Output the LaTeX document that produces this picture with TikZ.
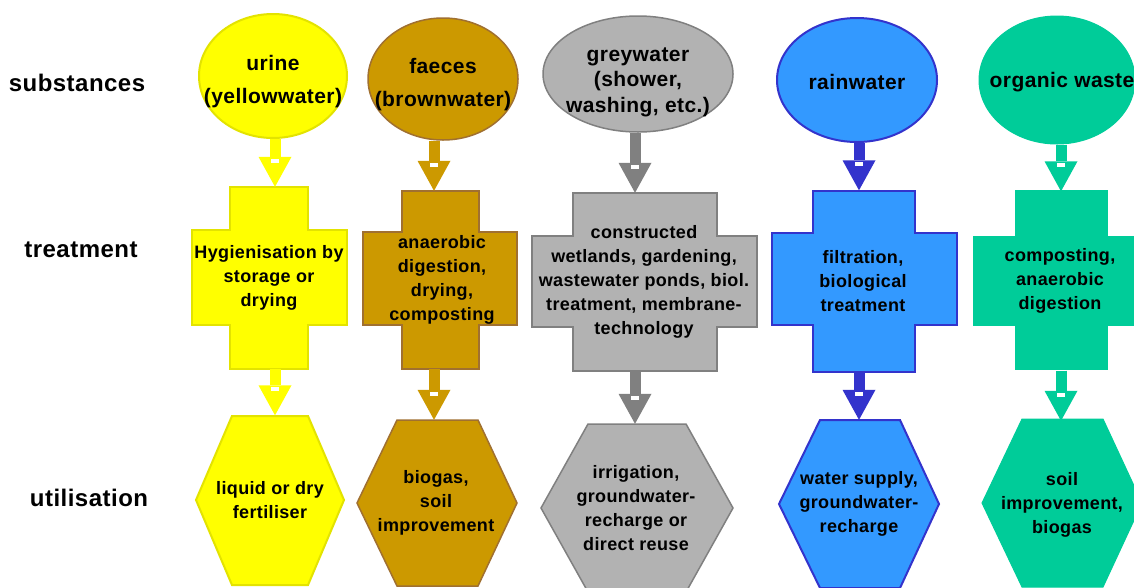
\documentclass[tikz,border=0pt]{standalone}
\usepackage{fontspec}
\setmainfont{Liberation Sans}[LetterSpace=2]
\usetikzlibrary{shapes.geometric,arrows.meta,calc}
\definecolor{yel}{HTML}{FFFF00}
\definecolor{yelb}{HTML}{E3E300}
\definecolor{brn}{HTML}{CC9900}
\definecolor{brnb}{HTML}{A07030}
\definecolor{gry}{HTML}{B2B2B2}
\definecolor{gryb}{HTML}{808080}
\definecolor{blu}{HTML}{3399FF}
\definecolor{blub}{HTML}{3333CC}
\definecolor{grn}{HTML}{00CC99}
\begin{document}
\begin{tikzpicture}[x=1pt,y=-1pt,
  srcshape/.style={ellipse, inner sep=0pt, line width=2pt},
  srctext/.style={rectangle, inner sep=0pt, align=center, font=\fontsize{21}{33}\selectfont\bfseries},
  boxtext/.style={rectangle, inner sep=0pt, align=center, font=\fontsize{18}{24}\selectfont\bfseries},
  rowlabel/.style={inner sep=0pt, font=\fontsize{24}{28}\selectfont\bfseries},
  flow/.style={line width=11pt, draw=#1, -{Triangle[width=33pt,length=30pt,line width=0pt]}},
  notch/.style={fill=white},
  yelsty/.style={fill=yel, draw=yelb, line width=2pt},
  brnsty/.style={fill=brn, draw=brnb, line width=1.5pt},
  grysty/.style={fill=gry, draw=gryb, line width=1.5pt},
  blusty/.style={fill=blu, draw=blub, line width=2pt},
  grnsty/.style={fill=grn, draw=grn, line width=1pt},
]
\useasboundingbox (0,0) rectangle (1134,587);
\fill[white] (0,0) rectangle (1134,587);
\clip (0,0) rectangle (1134,587);

% row labels
\node[rowlabel] (lsub) at (77,83) {substances};
\node[rowlabel] (ltrt) at (81,250) {treatment};
\node[rowlabel] (luse) at (89,498) {utilisation};

% ---------- column 1: urine ----------
\node[srcshape, yelsty, minimum width=148pt, minimum height=124pt] (e1) at (273,76) {};
\node[srctext] (t1) at (273,82) {urine\\(yellowwater)};
\filldraw[yelsty] (230,187) -- (308,187) -- (308,230) -- (347,230) -- (347,325) -- (308,325)
  -- (308,369) -- (230,369) -- (230,325) -- (192,325) -- (192,230) -- (230,230) -- cycle;
\node[boxtext, minimum height=182pt] (c1) at (269,278) {Hygienisation by\\storage or\\drying};
\filldraw[yelsty] (232,416) -- (308,416) -- (344,500) -- (308,585) -- (232,585) -- (196,500) -- cycle;
\node[boxtext, minimum height=169pt] (h1) at (270,500) {liquid or dry\\fertiliser};

% ---------- column 2: faeces ----------
\node[srcshape, brnsty, minimum width=150pt, minimum height=122pt] (e2) at (443,79) {};
\node[srctext] (t2) at (443,85) {faeces\\(brownwater)};
\filldraw[brnsty] (402,191) -- (479,191) -- (479,232) -- (517,232) -- (517,325) -- (479,325)
  -- (479,369) -- (402,369) -- (402,325) -- (363,325) -- (363,232) -- (402,232) -- cycle;
\node[boxtext, minimum height=178pt] (c2) at (442,280) {anaerobic\\digestion,\\drying,\\composting};
\filldraw[brnsty] (397,420) -- (478,420) -- (517,503) -- (478,586) -- (397,586) -- (357,503) -- cycle;
\node[boxtext, minimum height=166pt] (h2) at (436,503) {biogas,\\soil\\improvement};

% ---------- column 3: greywater ----------
\node[srcshape, grysty, minimum width=190pt, minimum height=116pt] (e3) at (638,74) {};
\node[srctext, font=\fontsize{21}{25.5}\selectfont\bfseries] (t3) at (638,82) {greywater\\(shower,\\washing, etc.)};
\filldraw[grysty] (573,193) -- (717,193) -- (717,236) -- (757,236) -- (757,327) -- (717,327)
  -- (717,371) -- (573,371) -- (573,327) -- (532,327) -- (532,236) -- (573,236) -- cycle;
\node[boxtext, minimum height=178pt] (c3) at (644,282) {constructed\\wetlands, gardening,\\wastewater ponds, biol.\\treatment, membrane-\\technology};
\filldraw[grysty] (588,424) -- (686,424) -- (733,508) -- (686,592) -- (588,592) -- (541,508) -- cycle;
\node[boxtext, minimum height=168pt] (h3) at (636,508) {irrigation,\\groundwater-\\recharge or\\direct reuse};

% ---------- column 4: rainwater ----------
\node[srcshape, blusty, minimum width=160pt, minimum height=124pt] (e4) at (857,80) {};
\node[srctext] (t4) at (857,82) {rainwater};
\filldraw[blusty] (813,191) -- (915,191) -- (915,233) -- (957,233) -- (957,325) -- (915,325)
  -- (915,372) -- (813,372) -- (813,325) -- (772,325) -- (772,233) -- (813,233) -- cycle;
\node[boxtext, minimum height=181pt] (c4) at (863,281) {filtration,\\biological\\treatment};
\filldraw[blusty] (820,420) -- (900,420) -- (939,504) -- (900,588) -- (820,588) -- (779,504) -- cycle;
\node[boxtext, minimum height=168pt] (h4) at (859,504) {water supply,\\groundwater-\\recharge};

% ---------- column 5: organic waste ----------
\node[srcshape, grnsty, minimum width=156pt, minimum height=128pt] (e5) at (1057,80) {};
\node[srctext] (t5) at (1062,82) {organic waste};
\filldraw[grnsty] (1015,190) -- (1107,190) -- (1107,236) -- (1149,236) -- (1149,325) -- (1107,325)
  -- (1107,369) -- (1015,369) -- (1015,325) -- (973,325) -- (973,236) -- (1015,236) -- cycle;
\node[boxtext, minimum height=179pt] (c5) at (1060,281) {composting,\\anaerobic\\digestion};
\filldraw[grnsty] (1022,419) -- (1103,419) -- (1142,503) -- (1103,587) -- (1022,587) -- (982,503) -- cycle;
\node[boxtext, minimum height=168pt] (h5) at (1062,505) {soil\\improvement,\\biogas};

% ---------- connectors ----------
\foreach \i/\col/\ax in {1/yel/275, 2/brn/434, 3/gryb/635, 4/blub/859, 5/grn/1061} {
  \coordinate (ax\i) at (\ax,0);
  \draw[flow=\col] (e\i.south -| ax\i) -- (c\i.north -| ax\i);
  \fill[notch] ($(c\i.north -| ax\i)+(-4,-28)$) rectangle ++(8,4);
  \draw[flow=\col] (c\i.south -| ax\i) -- (h\i.north -| ax\i);
  \fill[notch] ($(h\i.north -| ax\i)+(-4,-28)$) rectangle ++(8,4);
}
\end{tikzpicture}
\end{document}
